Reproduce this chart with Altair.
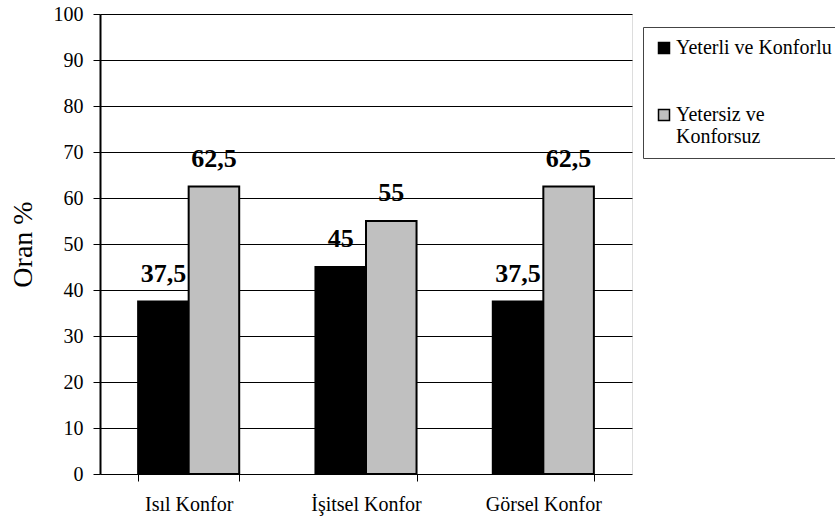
import altair as alt
import pandas as pd

categories = ["Isıl Konfor", "İşitsel Konfor", "Görsel Konfor"]
series = ["Yeterli ve Konforlu", "Yetersiz ve Konforsuz"]
yeterli = [37.5, 45, 37.5]
yetersiz = [62.5, 55, 62.5]

rows = []
for cat, a, b in zip(categories, yeterli, yetersiz):
    for name, v in zip(series, (a, b)):
        rows.append({"kategori": cat, "seri": name, "oran": v,
                     "etiket": f"{v:g}".replace(".", ",")})
df = pd.DataFrame(rows)

FONT = "Times New Roman"

x_enc = alt.X("kategori:N", sort=categories, title=None,
              scale=alt.Scale(paddingInner=0.43, paddingOuter=0.215),
              axis=alt.Axis(labelAngle=0, labelFontSize=20, labelColor="black",
                            labelFont=FONT, tickBand="extent", tickExtra=True,
                            tickColor="black", tickSize=7, labelPadding=13,
                            domain=False, grid=False))
off_enc = alt.XOffset("seri:N", sort=series, scale=alt.Scale(paddingInner=0, paddingOuter=0))

bars = alt.Chart(df).mark_bar(stroke="black", strokeWidth=2).encode(
    x=x_enc,
    xOffset=off_enc,
    y=alt.Y("oran:Q", title="Oran %",
            scale=alt.Scale(domain=[0, 100]),
            axis=alt.Axis(values=list(range(0, 101, 10)), labelFontSize=20,
                          labelFont=FONT, labelColor="black", tickColor="black",
                          tickSize=7, labelPadding=10, gridColor="black",
                          gridWidth=1, gridOpacity=1, domainColor="black",
                          domainWidth=2, titleFont=FONT, titleFontSize=28,
                          titleFontWeight="normal", titleColor="black",
                          titlePadding=16)),
    color=alt.Color("seri:N", sort=series, title=None,
                    scale=alt.Scale(domain=series, range=["#000000", "#C0C0C0"]),
                    legend=alt.Legend(orient="none", legendX=543, legendY=13,
                                      symbolType="square", symbolSize=121,
                                      symbolStrokeColor="black", symbolStrokeWidth=1.5,
                                      labelFont=FONT, labelFontSize=20,
                                      labelColor="black", labelLimit=400,
                                      labelOffset=2, rowPadding=47,
                                      padding=11, strokeColor="#444444",
                                      fillColor="white",
                                      labelExpr="datum.label == 'Yetersiz ve Konforsuz' ? ['Yetersiz ve', 'Konforsuz'] : datum.label")),
)

labels = alt.Chart(df).mark_text(font=FONT, fontSize=26, fontWeight="bold",
                                 baseline="alphabetic", dy=-20, color="black").encode(
    x=alt.X("kategori:N", sort=categories),
    xOffset=off_enc,
    y="oran:Q",
    text="etiket:N",
)

chart = (bars + labels).properties(
    width=532, height=460,
    autosize=alt.AutoSizeParams(type="none"),
    padding={"left": 100, "top": 14, "right": 203, "bottom": 46},
).configure_view(stroke="black", strokeWidth=2.5).configure(background="white")

chart.save("out.html", embed_options={"renderer": "svg", "actions": False})
